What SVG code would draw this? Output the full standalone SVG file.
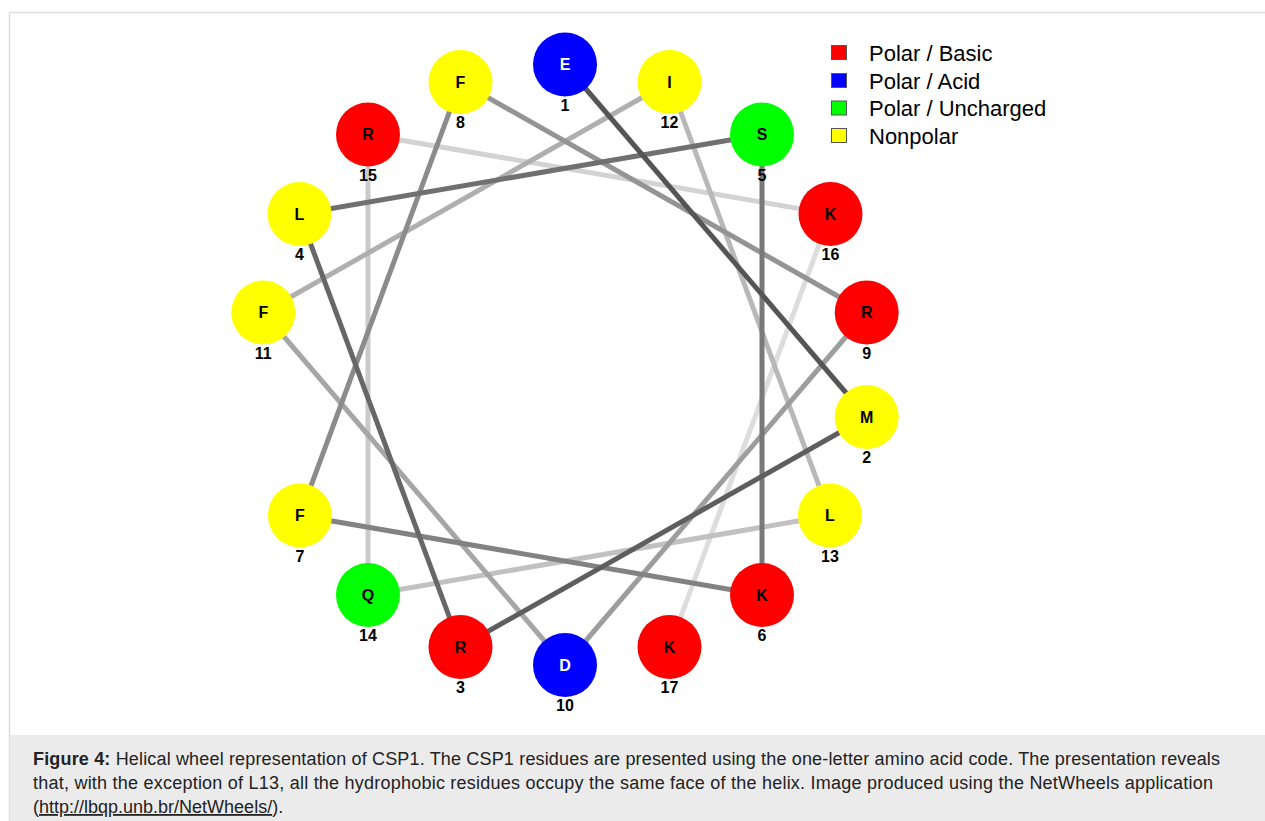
<svg xmlns="http://www.w3.org/2000/svg" width="1265" height="821" viewBox="0 0 1265 821">
<style>
.frame{fill:#ffffff;stroke:#dddddd;stroke-width:1.5}
.cap{fill:#ebebeb}
.lnk{stroke-width:5;fill:none;stroke-linecap:butt}
.res{stroke:none}
.aa{font-family:"Liberation Sans",Arial,sans-serif;font-weight:bold;font-size:16px;text-anchor:middle;fill:#000}
.aw{fill:#fff}
.num{font-family:"Liberation Sans",Arial,sans-serif;font-weight:bold;font-size:16px;text-anchor:middle;fill:#000}
.lg{font-family:"Liberation Sans",Arial,sans-serif;font-size:22px;fill:#000}
.sw{stroke:#555;stroke-width:1}
.ct{font-family:"Liberation Sans",Arial,sans-serif;font-size:18px;fill:#222}
.basic{fill:#ff0000}.acid{fill:#0000ff}.unch{fill:#00ff00}.nonp{fill:#ffff00}
</style>
<rect class="frame" x="9.5" y="12.5" width="1262" height="820"/>
<rect class="cap" x="10" y="735" width="1255" height="86"/>
<g id="connectors">
<line class="lnk" x1="669.5" y1="647" x2="830.5" y2="214" stroke="#dddddd"/>
<line class="lnk" x1="830.5" y1="214" x2="368" y2="134.5" stroke="#d3d3d3"/>
<line class="lnk" x1="368" y1="134.5" x2="368" y2="595" stroke="#cacaca"/>
<line class="lnk" x1="368" y1="595" x2="830" y2="515.5" stroke="#c1c1c1"/>
<line class="lnk" x1="830" y1="515.5" x2="669.5" y2="82" stroke="#b8b8b8"/>
<line class="lnk" x1="669.5" y1="82" x2="263.3" y2="312.5" stroke="#afafaf"/>
<line class="lnk" x1="263.3" y1="312.5" x2="565" y2="665" stroke="#a6a6a6"/>
<line class="lnk" x1="565" y1="665" x2="866.7" y2="312.5" stroke="#9d9d9d"/>
<line class="lnk" x1="866.7" y1="312.5" x2="460.5" y2="82" stroke="#949494"/>
<line class="lnk" x1="460.5" y1="82" x2="300" y2="515.5" stroke="#8b8b8b"/>
<line class="lnk" x1="300" y1="515.5" x2="762" y2="595" stroke="#828282"/>
<line class="lnk" x1="762" y1="595" x2="762" y2="134.5" stroke="#797979"/>
<line class="lnk" x1="762" y1="134.5" x2="299.5" y2="214" stroke="#707070"/>
<line class="lnk" x1="299.5" y1="214" x2="460.5" y2="647" stroke="#676767"/>
<line class="lnk" x1="460.5" y1="647" x2="866.7" y2="417" stroke="#5e5e5e"/>
<line class="lnk" x1="866.7" y1="417" x2="565" y2="64.5" stroke="#555555"/>
</g>
<g id="r1"><circle class="res acid" cx="565" cy="64.5" r="32"/><text class="aa aw" x="565" y="70.3">E</text><text class="num" x="565" y="110.5">1</text></g>
<g id="r2"><circle class="res nonp" cx="866.7" cy="417" r="32"/><text class="aa" x="866.7" y="422.8">M</text><text class="num" x="866.7" y="463">2</text></g>
<g id="r3"><circle class="res basic" cx="460.5" cy="647" r="32"/><text class="aa" x="460.5" y="652.8">R</text><text class="num" x="460.5" y="693">3</text></g>
<g id="r4"><circle class="res nonp" cx="299.5" cy="214" r="32"/><text class="aa" x="299.5" y="219.8">L</text><text class="num" x="299.5" y="260">4</text></g>
<g id="r5"><circle class="res unch" cx="762" cy="134.5" r="32"/><text class="aa" x="762" y="140.3">S</text><text class="num" x="762" y="180.5">5</text></g>
<g id="r6"><circle class="res basic" cx="762" cy="595" r="32"/><text class="aa" x="762" y="600.8">K</text><text class="num" x="762" y="641">6</text></g>
<g id="r7"><circle class="res nonp" cx="300" cy="515.5" r="32"/><text class="aa" x="300" y="521.3">F</text><text class="num" x="300" y="561.5">7</text></g>
<g id="r8"><circle class="res nonp" cx="460.5" cy="82" r="32"/><text class="aa" x="460.5" y="87.8">F</text><text class="num" x="460.5" y="128">8</text></g>
<g id="r9"><circle class="res basic" cx="866.7" cy="312.5" r="32"/><text class="aa" x="866.7" y="318.3">R</text><text class="num" x="866.7" y="358.5">9</text></g>
<g id="r10"><circle class="res acid" cx="565" cy="665" r="32"/><text class="aa aw" x="565" y="670.8">D</text><text class="num" x="565" y="711">10</text></g>
<g id="r11"><circle class="res nonp" cx="263.3" cy="312.5" r="32"/><text class="aa" x="263.3" y="318.3">F</text><text class="num" x="263.3" y="358.5">11</text></g>
<g id="r12"><circle class="res nonp" cx="669.5" cy="82" r="32"/><text class="aa" x="669.5" y="87.8">I</text><text class="num" x="669.5" y="128">12</text></g>
<g id="r13"><circle class="res nonp" cx="830" cy="515.5" r="32"/><text class="aa" x="830" y="521.3">L</text><text class="num" x="830" y="561.5">13</text></g>
<g id="r14"><circle class="res unch" cx="368" cy="595" r="32"/><text class="aa" x="368" y="600.8">Q</text><text class="num" x="368" y="641">14</text></g>
<g id="r15"><circle class="res basic" cx="368" cy="134.5" r="32"/><text class="aa" x="368" y="140.3">R</text><text class="num" x="368" y="180.5">15</text></g>
<g id="r16"><circle class="res basic" cx="830.5" cy="214" r="32"/><text class="aa" x="830.5" y="219.8">K</text><text class="num" x="830.5" y="260">16</text></g>
<g id="r17"><circle class="res basic" cx="669.5" cy="647" r="32"/><text class="aa" x="669.5" y="652.8">K</text><text class="num" x="669.5" y="693">17</text></g>
<g id="legend">
<rect class="sw basic" x="831.5" y="45.5" width="15" height="14"/><text class="lg" x="869" y="61">Polar / Basic</text>
<rect class="sw acid" x="831.5" y="73.5" width="15" height="14"/><text class="lg" x="869" y="88.7">Polar / Acid</text>
<rect class="sw unch" x="831.5" y="101" width="15" height="14"/><text class="lg" x="869" y="116.4">Polar / Uncharged</text>
<rect class="sw nonp" x="831.5" y="128.5" width="15" height="14"/><text class="lg" x="869" y="144">Nonpolar</text>
</g>
<g id="caption">
<text class="ct" x="33" y="765" textLength="1187" lengthAdjust="spacing"><tspan font-weight="bold">Figure 4:</tspan> Helical wheel representation of CSP1. The CSP1 residues are presented using the one-letter amino acid code. The presentation reveals</text>
<text class="ct" x="33" y="789" textLength="1180" lengthAdjust="spacing">that, with the exception of L13, all the hydrophobic residues occupy the same face of the helix. Image produced using the NetWheels application</text>
<text class="ct" x="33" y="813">(<tspan text-decoration="underline">http://lbqp.unb.br/NetWheels/</tspan>).</text>
</g>
</svg>
